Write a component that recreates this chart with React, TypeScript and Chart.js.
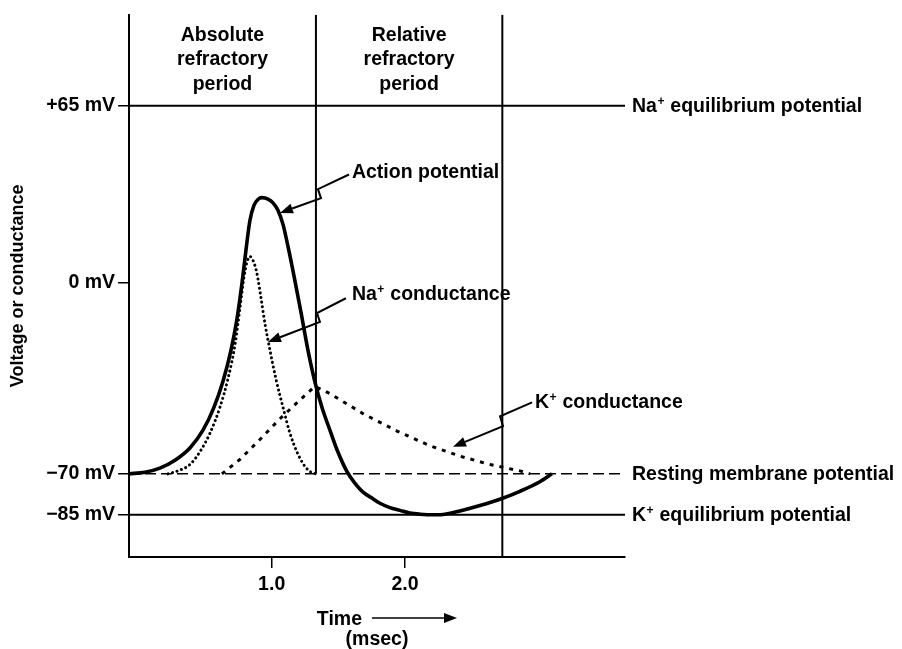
import React, { useEffect, useRef } from 'react';
import { Chart, registerables } from 'chart.js';

Chart.register(...registerables);

const FONT = '"Liberation Sans", Arial, Helvetica, sans-serif';

// ---- axes ----
const xTicks = [1.0, 2.0];
const yTicks = [65, 0, -70, -85];
const xRange = [-0.07, 3.65];
const yRange = [-100.5, 98.4];

// ---- action potential (msec, mV) ----
const apTime = [-0.07, 0.05, 0.162, 0.275, 0.387, 0.485, 0.567, 0.635, 0.695, 0.74, 0.778, 0.808, 0.837, 0.867, 0.897, 0.927, 0.972, 1.01, 1.047, 1.085, 1.122, 1.167, 1.22, 1.272, 1.325, 1.377, 1.437, 1.497, 1.565, 1.625, 1.685, 1.752, 1.812, 1.887, 1.962, 2.037, 2.112, 2.225, 2.3, 2.412, 2.562, 2.712, 2.862, 3.012, 3.102];
const apVoltage = [-70, -69.4, -67.9, -65.0, -60.5, -54.0, -45.6, -36.0, -24.6, -13.1, 0.2, 12.4, 22.9, 28.5, 30.6, 31.3, 30.8, 29.4, 26.7, 21.5, 13.5, 2.7, -10.8, -24.6, -36.4, -45.6, -54.0, -62.0, -69.2, -73.5, -76.7, -78.9, -80.8, -82.4, -83.4, -84.4, -84.8, -85.0, -84.8, -83.6, -81.6, -79.3, -76.4, -72.9, -70];

// ---- Na+ conductance ----
const naTime = [0.222, 0.297, 0.387, 0.462, 0.537, 0.612, 0.672, 0.725, 0.762, 0.792, 0.815, 0.837, 0.86, 0.89, 0.92, 0.95, 0.987, 1.032, 1.085, 1.137, 1.19, 1.25, 1.302, 1.332];
const naConductance = [-70, -68.9, -66.6, -61.9, -55.1, -45.6, -35.2, -22.6, -9.3, 2.0, 7.6, 9.7, 8.3, 3.4, -5.5, -15.0, -24.6, -35.2, -45.6, -55.1, -62.0, -67.3, -69.6, -70];

// ---- K+ conductance ----
const kTime = [0.627, 0.762, 0.912, 1.062, 1.212, 1.325, 1.437, 1.685, 1.94, 2.187, 2.412, 2.637, 2.862, 2.938];
const kConductance = [-70, -64.7, -57.4, -49.8, -42.9, -37.9, -40.6, -47.9, -54.3, -59.7, -63.5, -66.6, -68.9, -70];

// ---- reference levels ----
const naEquilibrium = 65;
const restingPotential = -70;
const kEquilibrium = -85;
const absoluteEnd = 1.332;
const relativeEnd = 2.73;

// ---- text ----
const periodLabels = [
  ['Absolute', 'refractory', 'period'],
  ['Relative', 'refractory', 'period'],
];
const levelLabels = [
  { value: naEquilibrium, text: 'Na^+ equilibrium potential' },
  { value: restingPotential, text: 'Resting membrane potential' },
  { value: kEquilibrium, text: 'K^+ equilibrium potential' },
];
const callouts = [
  { text: 'Action potential', at: [1.602, 40.9], path: [[1.58, 39.8], [1.347, 34.4], [1.37, 31.1], [1.062, 25.7]] },
  { text: 'Na^+ conductance', at: [1.602, -3.8], path: [[1.557, -5.6], [1.34, -11.05], [1.362, -14.3], [0.972, -21.6]] },
  { text: 'K^+ conductance', at: [2.975, -43.4], path: [[2.953, -43.8], [2.713, -48.9], [2.735, -52.5], [2.36, -60.1]] },
];
const yTitle = 'Voltage or conductance';
const xTitle = 'Time';
const xUnit = '(msec)';

const pts = (xs: number[], ys: number[]) => xs.map((x, i) => ({ x, y: ys[i] }));

function drawRich(ctx: CanvasRenderingContext2D, text: string, x: number, baseline: number, align: 'left' | 'center', size: number) {
  const parts = text.split('^');
  const segs: { s: string; sup: boolean }[] = [{ s: parts[0], sup: false }];
  for (let i = 1; i < parts.length; i++) {
    segs.push({ s: parts[i][0], sup: true });
    segs.push({ s: parts[i].slice(1), sup: false });
  }
  const mainF = `bold ${size}px ${FONT}`;
  const supF = `bold ${Math.round(size * 0.62)}px ${FONT}`;
  const widths = segs.map((g) => {
    ctx.font = g.sup ? supF : mainF;
    return ctx.measureText(g.s).width;
  });
  const total = widths.reduce((a, b) => a + b, 0);
  let cx = align === 'center' ? x - total / 2 : x;
  ctx.textAlign = 'left';
  ctx.textBaseline = 'alphabetic';
  segs.forEach((g, i) => {
    ctx.font = g.sup ? supF : mainF;
    ctx.fillText(g.s, cx + (g.sup ? 0.5 : 0), g.sup ? baseline - size * 0.36 : baseline);
    cx += widths[i] + (g.sup ? 1 : 0);
  });
}

function drawArrow(ctx: CanvasRenderingContext2D, p: number[][], head = 13, half = 5) {
  const n = p.length;
  const [tx, ty] = p[n - 1];
  const [px, py] = p[n - 2];
  const dx = tx - px, dy = ty - py;
  const len = Math.hypot(dx, dy);
  const ux = dx / len, uy = dy / len;
  const bx = tx - ux * head, by = ty - uy * head;
  ctx.beginPath();
  ctx.moveTo(p[0][0], p[0][1]);
  for (let i = 1; i < n - 1; i++) ctx.lineTo(p[i][0], p[i][1]);
  ctx.lineTo(bx, by);
  ctx.stroke();
  ctx.beginPath();
  ctx.moveTo(tx, ty);
  ctx.lineTo(bx - uy * half, by + ux * half);
  ctx.lineTo(bx + uy * half, by - ux * half);
  ctx.closePath();
  ctx.fill();
}

const overlay = {
  id: 'overlay',
  afterDraw(chart: any) {
    const { ctx, chartArea: ca, scales } = chart;
    const xs = scales.x, ys = scales.y;
    ctx.save();
    ctx.fillStyle = '#000';
    ctx.strokeStyle = '#000';
    ctx.lineWidth = 2;
    ctx.lineJoin = 'miter';

    const bounds = [ca.left, xs.getPixelForValue(absoluteEnd), xs.getPixelForValue(relativeEnd)];
    periodLabels.forEach((lines, i) => {
      const cx = (bounds[i] + bounds[i + 1]) / 2;
      lines.forEach((s, j) => drawRich(ctx, s, cx, ca.top + 26 + j * 24.5, 'center', 19.5));
    });

    levelLabels.forEach((l) => {
      drawRich(ctx, l.text, ca.right + 7, ys.getPixelForValue(l.value) + 6, 'left', 19.5);
    });

    callouts.forEach((c) => {
      drawRich(ctx, c.text, xs.getPixelForValue(c.at[0]), ys.getPixelForValue(c.at[1]) + 7, 'left', 19.5);
      const p = c.path.map(([t, v]) => [xs.getPixelForValue(t), ys.getPixelForValue(v)]);
      drawArrow(ctx, p);
    });

    const cx = (ca.left + ca.right) / 2;
    const ty = ca.bottom + 61;
    ctx.font = `bold 19.5px ${FONT}`;
    ctx.textAlign = 'right';
    ctx.textBaseline = 'alphabetic';
    ctx.fillText(xTitle, cx - 15, ty + 7);
    ctx.lineWidth = 1.5;
    drawArrow(ctx, [[cx - 5, ty], [cx + 80, ty]], 13, 5);
    ctx.textAlign = 'center';
    ctx.fillText(xUnit, cx, ty + 27);
    ctx.restore();
  },
};

export default function App() {
  const ref = useRef<HTMLCanvasElement | null>(null);

  useEffect(() => {
    document.body.style.margin = '0';
    const canvas = ref.current;
    if (!canvas) return;
    const [x0, x1] = xRange;
    const [y0, y1] = yRange;
    const black = '#000';
    const chart = new Chart(canvas, {
      type: 'line',
      data: {
        datasets: [
          {
            label: 'Action potential',
            data: pts(apTime, apVoltage),
            borderColor: black,
            borderWidth: 3.6,
            cubicInterpolationMode: 'monotone',
            borderJoinStyle: 'round',
            pointRadius: 0,
          },
          {
            label: 'Na+ conductance',
            data: pts(naTime, naConductance),
            borderColor: black,
            borderWidth: 3,
            borderDash: [0.1, 4.6],
            borderCapStyle: 'round',
            cubicInterpolationMode: 'monotone',
            pointRadius: 0,
          },
          {
            label: 'K+ conductance',
            data: pts(kTime, kConductance),
            borderColor: black,
            borderWidth: 3,
            borderDash: [4, 6],
            tension: 0,
            pointRadius: 0,
          },
          {
            label: 'Resting membrane potential',
            data: pts([x0, x1], [restingPotential, restingPotential]),
            borderColor: black,
            borderWidth: 1.5,
            borderDash: [11, 5],
            pointRadius: 0,
          },
          {
            label: 'Na+ equilibrium potential',
            data: pts([x0, x1], [naEquilibrium, naEquilibrium]),
            borderColor: black,
            borderWidth: 1.8,
            pointRadius: 0,
          },
          {
            label: 'K+ equilibrium potential',
            data: pts([x0, x1], [kEquilibrium, kEquilibrium]),
            borderColor: black,
            borderWidth: 1.8,
            pointRadius: 0,
          },
          {
            label: 'Absolute refractory end',
            data: pts([absoluteEnd, absoluteEnd], [y1, restingPotential]),
            borderColor: black,
            borderWidth: 2,
            pointRadius: 0,
          },
          {
            label: 'Relative refractory end',
            data: pts([relativeEnd, relativeEnd], [y1, y0]),
            borderColor: black,
            borderWidth: 2,
            pointRadius: 0,
          },
        ],
      },
      options: {
        animation: false,
        responsive: false,
        events: [],
        layout: { padding: { left: 0, top: 10, right: 277, bottom: 0 } },
        plugins: { legend: { display: false }, tooltip: { enabled: false } },
        scales: {
          x: {
            type: 'linear',
            min: x0,
            max: x1,
            afterBuildTicks: (s: any) => {
              s.ticks = xTicks.map((value) => ({ value }));
            },
            afterFit: (s: any) => {
              s.height = 92;
            },
            ticks: {
              color: black,
              padding: 5,
              font: { family: FONT, size: 19.5, weight: 'bold' },
              callback: (v: any) => Number(v).toFixed(1),
            },
            grid: { drawOnChartArea: false, drawTicks: true, tickLength: 11, color: black, lineWidth: 1.5 },
            border: { display: true, color: black, width: 2 },
          },
          y: {
            type: 'linear',
            min: y0,
            max: y1,
            afterBuildTicks: (s: any) => {
              s.ticks = yTicks.map((value) => ({ value }));
            },
            afterFit: (s: any) => {
              s.width = 129;
            },
            ticks: {
              color: black,
              padding: 3,
              font: { family: FONT, size: 19.5, weight: 'bold' },
              callback: (v: any) => {
                const n = Number(v);
                return (n > 0 ? '+' : n < 0 ? '\u2212' : '') + Math.abs(n) + ' mV';
              },
            },
            grid: { drawOnChartArea: false, drawTicks: true, tickLength: 11, color: black, lineWidth: 1.5 },
            border: { display: true, color: black, width: 2 },
            title: {
              display: true,
              text: yTitle,
              color: black,
              padding: { top: 7, bottom: 0 },
              font: { family: FONT, size: 18, weight: 'bold' },
            },
          },
        },
      },
      plugins: [overlay],
    } as any);
    return () => chart.destroy();
  }, []);

  return (
    <div style={{ width: 902, height: 649, background: '#fff' }}>
      <canvas ref={ref} width={902} height={649} style={{ display: 'block' }} />
    </div>
  );
}
